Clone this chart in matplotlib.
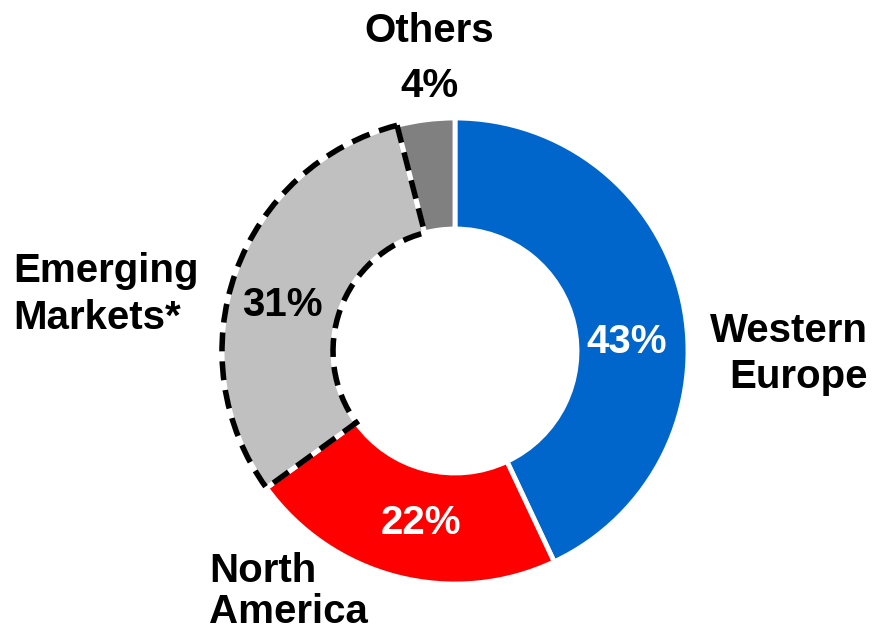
import matplotlib
matplotlib.use("Agg")
import matplotlib.pyplot as plt
from matplotlib.patches import Wedge

# regional split of sales, clockwise from 12 o'clock
regions = ["Western\nEurope", "North\nAmerica", "Emerging\nMarkets*", "Others"]
shares = [43, 22, 31, 4]
colors = ["#0066CC", "#FF0000", "#C0C0C0", "#808080"]
pct_colors = ["white", "white", "black", "black"]

W, H = 872, 633
CX, CY = 455, H - 351
R_OUT, RING = 233, 111

plt.rcParams["font.family"] = ["Liberation Sans", "DejaVu Sans"]
FS = 29

fig = plt.figure(figsize=(W / 100, H / 100), dpi=100)
ax = fig.add_axes([0, 0, 1, 1])

wedges, _ = ax.pie(shares, colors=colors, startangle=90, counterclock=False,
                   radius=R_OUT, center=(CX, CY),
                   wedgeprops=dict(width=RING, edgecolor="white", linewidth=3.5))

# dashed outline around the emerging markets segment
em = wedges[2]
outline = Wedge((CX, CY), R_OUT, em.theta1, em.theta2, width=RING,
                fill=False, edgecolor="black", linewidth=4,
                linestyle=(0, (3.4, 1.8)), zorder=5)
ax.add_patch(outline)

ax.set_xlim(0, W)
ax.set_ylim(0, H)
ax.set_aspect("equal")
ax.axis("off")

# percentage labels inside the ring (x, y from the top edge)
pct_pos = [(627, 342), (421, 523), (282, 305), None]
for share, pos, c in zip(shares, pct_pos, pct_colors):
    if pos is None:
        continue
    ax.text(pos[0], H - pos[1], f"{share}%", ha="center", va="center",
            fontsize=FS, fontweight="bold", color=c, zorder=6)

# category names outside the ring: anchor x, alignment, baseline of each line
name_pos = [
    (868, "right", [342, 388]),
    (209, "left", [582, 623]),
    (13, "left", [282, 329]),
    (429, "center", [42]),
]
for name, (x, ha, baselines) in zip(regions, name_pos):
    for line, yb in zip(name.split("\n"), baselines):
        ax.text(x, H - yb, line, ha=ha, va="baseline",
                fontsize=FS, fontweight="bold", color="black")

ax.text(429, H - 97, f"{shares[3]}%", ha="center", va="baseline",
        fontsize=FS, fontweight="bold", color="black")

fig.savefig("out.png", dpi=100)
